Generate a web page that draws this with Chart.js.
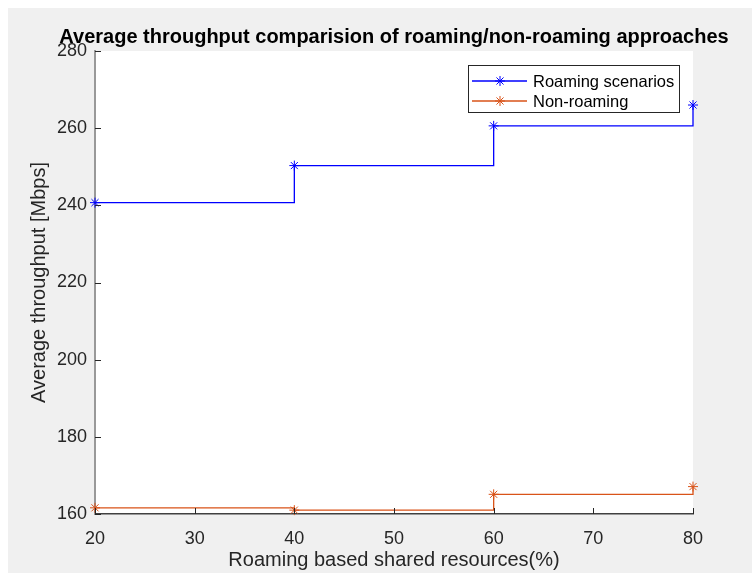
<!DOCTYPE html>
<html lang="en">
<head>
    <meta charset="UTF-8">
    <title>Average throughput comparision</title>
    <style>
        body {
            margin: 0;
            background: #ffffff;
            font-family: 'Liberation Sans', Arial, sans-serif;
        }
        #wrap {
            position: absolute;
            left: 8px;
            top: 8px;
            width: 744px;
            height: 565px;
            background: #f0f0f0; /* figure grey */
        }
    </style>
</head>
<body>
    <div id="wrap">
        <canvas id="throughputChart" width="744" height="565"></canvas>
    </div>
    <script src="https://cdn.jsdelivr.net/npm/chart.js"></script>
    <script>
        // Shared resources (%) on the x axis
        const resources = [20, 40, 60, 80];
        // Average throughput in Mbps
        const roaming = [240.7, 250.3, 260.6, 266.0];
        const nonRoaming = [161.6, 161.0, 165.1, 167.1];
        const seriesNames = ['Roaming scenarios', 'Non-roaming'];
        const xTicks = [20, 30, 40, 50, 60, 70, 80];
        const yTicks = [160, 180, 200, 220, 240, 260, 280];
        const chartTitle = 'Average throughput comparision of roaming/non-roaming approaches';

        const FONT = "'Liberation Sans', Arial, Helvetica, sans-serif";
        const INK = '#262626';

        // white plot box behind the data
        const plotBackground = {
            id: 'plotBackground',
            beforeDraw(chart) {
                const { ctx, chartArea: a } = chart;
                ctx.save();
                ctx.fillStyle = '#ffffff';
                ctx.fillRect(a.left, a.top, a.right - a.left, a.bottom - a.top);
                ctx.restore();
            }
        };

        // title centred over the plot box, drawn at its natural width
        const plotTitle = {
            id: 'plotTitle',
            afterDraw(chart) {
                const { ctx, chartArea: a } = chart;
                ctx.save();
                ctx.font = 'bold 20px ' + FONT;
                ctx.fillStyle = '#000000';
                ctx.textAlign = 'center';
                ctx.textBaseline = 'alphabetic';
                ctx.fillText(chartTitle, (a.left + a.right) / 2, a.top - 8);
                ctx.restore();
            }
        };

        // small tick marks pointing into the plot
        const innerTicks = {
            id: 'innerTicks',
            afterDraw(chart) {
                const { ctx, chartArea: a, scales } = chart;
                ctx.save();
                ctx.strokeStyle = INK;
                ctx.lineWidth = 1;
                ctx.beginPath();
                xTicks.forEach(v => {
                    const x = Math.round(scales.x.getPixelForValue(v)) + 0.5;
                    ctx.moveTo(x, a.bottom);
                    ctx.lineTo(x, a.bottom - 6);
                });
                yTicks.forEach(v => {
                    const y = Math.round(scales.y.getPixelForValue(v)) + 0.5;
                    ctx.moveTo(a.left, y);
                    ctx.lineTo(a.left + 6, y);
                });
                ctx.stroke();
                ctx.restore();
            }
        };

        function drawStar(ctx, x, y, r) {
            const d = r * Math.SQRT1_2;
            ctx.beginPath();
            ctx.moveTo(x - r, y); ctx.lineTo(x + r, y);
            ctx.moveTo(x, y - r); ctx.lineTo(x, y + r);
            ctx.moveTo(x - d, y - d); ctx.lineTo(x + d, y + d);
            ctx.moveTo(x - d, y + d); ctx.lineTo(x + d, y - d);
            ctx.stroke();
        }

        // boxed legend in the upper right corner
        const boxLegend = {
            id: 'boxLegend',
            afterDatasetsDraw(chart) {
                const { ctx, chartArea: a } = chart;
                const w = 211, h = 47;
                const left = a.right - 14 - w;
                const top = a.top + 14;
                ctx.save();
                ctx.fillStyle = '#ffffff';
                ctx.fillRect(left, top, w, h);
                ctx.strokeStyle = INK;
                ctx.lineWidth = 1;
                ctx.strokeRect(left + 0.5, top + 0.5, w, h);
                ctx.font = '16.5px ' + FONT;
                ctx.textBaseline = 'middle';
                chart.data.datasets.forEach((ds, i) => {
                    const y = top + 16 + i * 20;
                    ctx.strokeStyle = ds.borderColor;
                    ctx.lineWidth = 1.3;
                    ctx.beginPath();
                    ctx.moveTo(left + 4, y);
                    ctx.lineTo(left + 59, y);
                    ctx.stroke();
                    ctx.lineWidth = 1;
                    drawStar(ctx, left + 32, y, 5);
                    ctx.fillStyle = '#000000';
                    ctx.fillText(ds.label, left + 65, y + 1);
                });
                ctx.restore();
            }
        };

        const ctx = document.getElementById('throughputChart').getContext('2d');
        const makeSeries = (label, values, color) => ({
            label: label,
            data: resources.map((x, i) => ({ x: x, y: values[i] })),
            borderColor: color,
            backgroundColor: color,
            borderWidth: 1.3,
            stepped: true,
            pointStyle: 'star',
            pointRadius: 5,
            pointBorderWidth: 1,
            pointBorderColor: color,
            fill: false,
            clip: false
        });

        new Chart(ctx, {
            type: 'line',
            data: {
                datasets: [
                    makeSeries(seriesNames[0], roaming, '#0000ff'),
                    makeSeries(seriesNames[1], nonRoaming, '#d95319')
                ]
            },
            options: {
                responsive: false,
                animation: false,
                layout: { padding: { top: 43, right: 59, bottom: 0, left: 0 } },
                plugins: {
                    legend: { display: false },
                    tooltip: { enabled: false },
                    title: { display: false }
                },
                scales: {
                    x: {
                        type: 'linear',
                        min: 20,
                        max: 80,
                        afterBuildTicks: s => { s.ticks = xTicks.map(v => ({ value: v })); },
                        afterFit: s => { s.height = 59; },
                        grid: { display: false, drawTicks: false },
                        border: { display: true, color: '#404040', width: 1.5 },
                        ticks: { color: INK, padding: 14, font: { family: FONT, size: 18 } },
                        title: {
                            display: true,
                            text: 'Roaming based shared resources(%)',
                            color: INK,
                            font: { family: FONT, size: 20 },
                            padding: { top: 0, bottom: 1 }
                        }
                    },
                    y: {
                        min: 160,
                        max: 280,
                        afterBuildTicks: s => { s.ticks = yTicks.map(v => ({ value: v })); },
                        afterFit: s => { s.width = 87; },
                        grid: { display: false, drawTicks: false },
                        border: { display: true, color: '#999999', width: 2 },
                        ticks: { color: INK, padding: 8, font: { family: FONT, size: 18 } },
                        title: {
                            display: true,
                            text: 'Average throughput [Mbps]',
                            color: INK,
                            font: { family: FONT, size: 20 },
                            padding: { top: 19, bottom: 0 }
                        }
                    }
                }
            },
            plugins: [plotBackground, innerTicks, boxLegend, plotTitle]
        });
    </script>
</body>
</html>
